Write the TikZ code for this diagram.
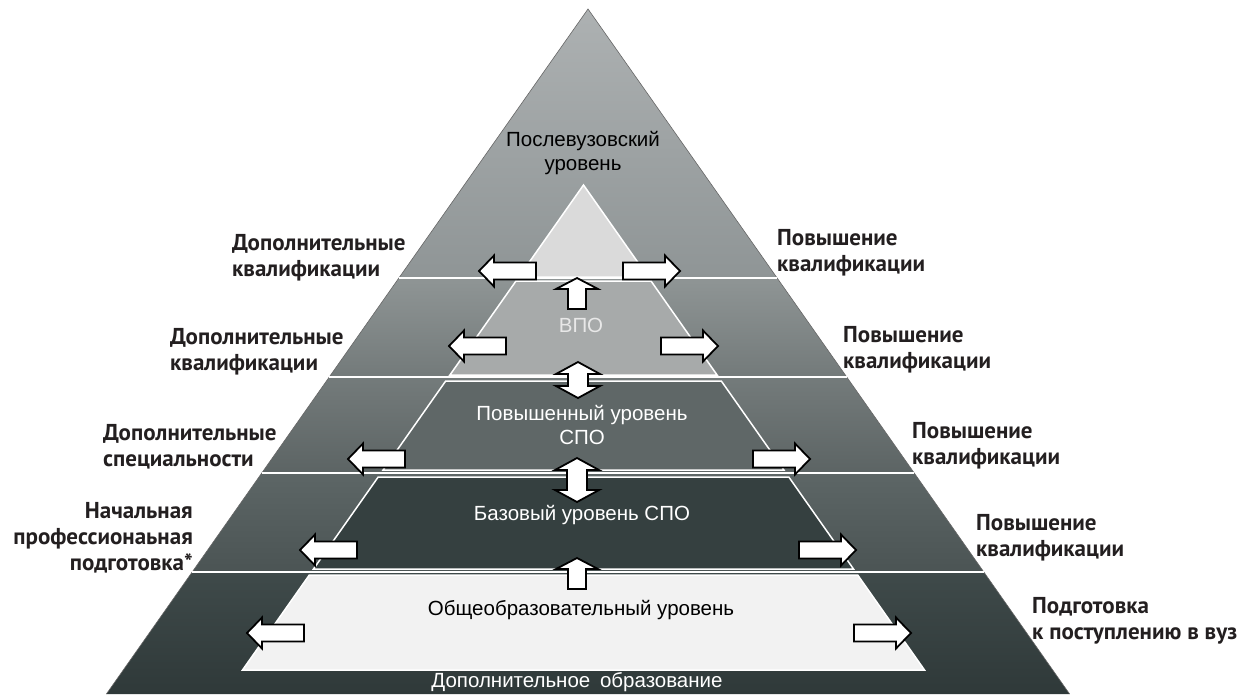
\documentclass[tikz,border=0pt]{standalone}
\usepackage{fontspec}
\setmainfont{Liberation Sans}
\newfontfamily\sidefont{PT Sans}
\definecolor{oat}{HTML}{ADB1B2}\definecolor{oab}{HTML}{8F9596}
\definecolor{obt}{HTML}{8F9595}\definecolor{obb}{HTML}{737A7A}
\definecolor{oct}{HTML}{747B7B}\definecolor{ocb}{HTML}{5C6464}
\definecolor{odt}{HTML}{5D6666}\definecolor{odb}{HTML}{4B5454}
\definecolor{oet}{HTML}{3F4A4A}\definecolor{oeb}{HTML}{2F3939}
\definecolor{ia}{HTML}{DADADA}\definecolor{ib}{HTML}{A7AAAA}
\definecolor{ic}{HTML}{5F6767}\definecolor{id}{HTML}{354040}
\definecolor{ie}{HTML}{F2F2F2}
\definecolor{labelc}{HTML}{231F20}
\definecolor{vpoc}{HTML}{E8E8E8}
\tikzset{
  arrowbox/.style={fill=white,draw=black,line width=1.8pt,line join=miter},
  sepline/.style={draw=white,line width=1.6pt},
  innerband/.style={draw=white,line width=1.5pt},
  lvl/.style={font=\fontsize{20.5}{24}\selectfont,align=center,inner sep=0pt},
  side/.style={font=\sidefont\bfseries\fontsize{23}{26}\selectfont,text=labelc,inner sep=0pt},
  pics/harr/.style={code={\draw[arrowbox] (0,-8.5) -- (-42,-8.5) -- (-42,-15.5) -- (-57,0) -- (-42,15.5) -- (-42,8.5) -- (0,8.5) -- cycle;}},
  pics/uarr/.style={code={\draw[arrowbox] (-9,0) -- (-9,-20) -- (-21,-20) -- (0,-31) -- (21,-20) -- (9,-20) -- (9,0) -- cycle;}},
  pics/darr/.style={code={\draw[arrowbox] (0,{-#1/2}) -- (22,{-#1/2+12}) -- (10,{-#1/2+12}) -- (10,{#1/2-12}) -- (22,{#1/2-12}) -- (0,{#1/2}) -- (-22,{#1/2-12}) -- (-10,{#1/2-12}) -- (-10,{-#1/2+12}) -- (-22,{-#1/2+12}) -- cycle;}},
}
\begin{document}
\begin{tikzpicture}[x=1pt,y=-1pt]
\useasboundingbox (0,0) rectangle (1244,694);
\fill[white] (0,0) rectangle (1244,694);
% outer bands
\shade[top color=oat,bottom color=oab] (588,9) -- (777.1,278) -- (398.9,278) -- cycle;
\shade[top color=obt,bottom color=obb] (398.9,278) -- (777.1,278) -- (846.7,377) -- (329.3,377) -- cycle;
\shade[top color=oct,bottom color=ocb] (329.3,377) -- (846.7,377) -- (914.2,473) -- (261.8,473) -- cycle;
\shade[top color=odt,bottom color=odb] (261.8,473) -- (914.2,473) -- (983.8,572) -- (192.2,572) -- cycle;
\shade[top color=oet,bottom color=oeb] (192.2,572) -- (983.8,572) -- (1069.6,694) -- (106.4,694) -- cycle;
\draw[black!60,line width=0.6pt] (106.4,694) -- (588,9) -- (1069.6,694);
% separators
\draw[sepline] (398.9,278) -- (777.1,278);
\draw[sepline] (329.3,377) -- (846.7,377);
\draw[sepline] (261.8,473) -- (914.2,473);
\draw[sepline] (192.2,572) -- (983.8,572);
% inner pyramid
\filldraw[innerband,fill=ia] (583.5,185) -- (648.2,277) -- (518.8,277) -- cycle;
\filldraw[innerband,fill=ib] (516.0,281) -- (651.0,281) -- (717.1,375) -- (449.9,375) -- cycle;
\filldraw[innerband,fill=ic] (445.7,381) -- (721.3,381) -- (783.9,470) -- (383.1,470) -- cycle;
\filldraw[innerband,fill=id] (378.2,477) -- (788.8,477) -- (853.5,569) -- (313.5,569) -- cycle;
\filldraw[innerband,fill=ie] (309.3,575) -- (857.7,575) -- (924.5,670) -- (242.5,670) -- cycle;
% level texts
\node[lvl] (post) at (583,153) {Послевузовский\\уровень};
\node[lvl,text=vpoc] (vpo) at (581,325) {ВПО};
\node[lvl,text=white] (spohi) at (582,425) {Повышенный уровень\\СПО};
\node[lvl,text=white] (spobase) at (582,515) {Базовый уровень СПО};
\node[lvl] (general) at (581,610) {Общеобразовательный уровень};
\node[lvl,text=white] (addedu) at (577,682) {Дополнительное\hspace{4pt} образование};
% horizontal arrows
\pic at (536,271) {harr}; \pic[xscale=-1] at (623,271) {harr};
\pic at (506,346) {harr}; \pic[xscale=-1] at (661,346) {harr};
\pic at (405,459) {harr}; \pic[xscale=-1] at (753,459) {harr};
\pic at (357,550) {harr}; \pic[xscale=-1] at (799,550) {harr};
\pic at (304,633) {harr}; \pic[xscale=-1] at (854,633) {harr};
% vertical arrows
\pic at (577,309) {uarr};
\pic at (578,380) {darr=36};
\pic at (577,480) {darr=44};
\pic at (577,589) {uarr};
% side labels
\node[side,anchor=west,align=left] (l1) at (232,257.5) {Дополнительные\\квалификации};
\node[side,anchor=west,align=left] (l2) at (170,351.5) {Дополнительные\\квалификации};
\node[side,anchor=west,align=left] (l3) at (103,446.5) {Дополнительные\\специальности};
\node[side,anchor=east,align=right] (l4) at (193,538) {Начальная\\профессионаьная\\подготовка*};
\node[side,anchor=west,align=left] (r1) at (777,252.5) {Повышение\\квалификации};
\node[side,anchor=west,align=left] (r2) at (843,349.5) {Повышение\\квалификации};
\node[side,anchor=west,align=left] (r3) at (912,445.5) {Повышение\\квалификации};
\node[side,anchor=west,align=left] (r4) at (976,537.5) {Повышение\\квалификации};
\node[side,anchor=west,align=left] (r5) at (1032,621) {Подготовка\\к поступлению в вуз};
\end{tikzpicture}
\end{document}
